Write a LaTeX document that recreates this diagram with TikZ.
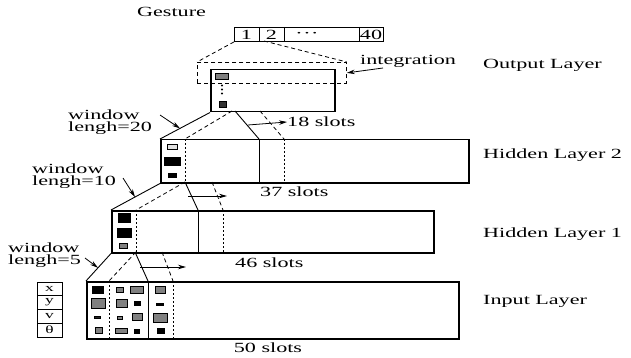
\documentclass[tikz,border=0pt]{standalone}
\usepackage{fontspec}
\setmainfont[FakeStretch=1.58]{Liberation Serif}
\usetikzlibrary{calc,arrows.meta}
\newcommand\mysq[5]{\filldraw[fill=#5,draw=black,line width=0.5pt] (#1,#2) rectangle (#3,#4);}
\begin{document}
\begin{tikzpicture}[x=1pt,y=-1pt,
  every node/.style={font=\fontsize{14}{12.5}\selectfont, inner sep=0pt},
  layer/.style={draw, line width=1.5pt, anchor=north west, inner sep=0pt},
  thinbox/.style={draw, line width=0.9pt, anchor=north west, inner sep=0pt},
  conn/.style={line width=0.9pt},
  dconn/.style={line width=0.8pt, dash pattern=on 4pt off 3pt},
  vdiv/.style={line width=1pt, dash pattern=on 2.2pt off 1.8pt},
  arr/.style={line width=0.8pt, -{Stealth[length=8pt,width=4.5pt]}},
  featlbl/.style={font=\fontsize{11}{11}\selectfont},
]
\useasboundingbox (0,0) rectangle (631,358);

% ---------- gesture vector ----------
\node[anchor=west] (gest) at (137,12) {Gesture};
\node[thinbox, minimum width=149pt, minimum height=14pt] (g) at (234,27) {};
\draw[line width=0.9pt] (259,27) -- (259,41) (284,27) -- (284,41) (359,27) -- (359,41);
\node (g1) at (246.5,34.5) {1};
\node (g2) at (271.5,34.5) {2};
\node[font=\fontsize{7}{8}\selectfont] (gd) at (307,34) {•\hspace{4pt}•\hspace{4pt}•};
\node (g40) at (371,34.5) {40};

% ---------- output layer ----------
\node[draw, dconn, anchor=north west, minimum width=149pt, minimum height=21pt] (int) at (197,62) {};
\coordinate (gr) at (264,41);
\draw[dconn] (g.south west) -- (int.north west);
\draw[dconn] (gr) -- (int.north east);
\node[anchor=west] (integ) at (360,61) {integration};
\coordinate (ia) at (383,68);
\draw[arr] (ia) -- (int.east);

\node[layer, minimum width=124pt, minimum height=42pt] (o) at (210,69) {};
\mysq{215}{73}{228}{79}{gray}
\foreach \yy in {85.5,89.5,93.5} \fill (222,\yy) circle (1.1pt);
\mysq{219}{101}{226}{107}{black!80}
\node[anchor=west] (lo) at (483,65) {Output Layer};

% ---------- hidden layer 2 ----------
\node[layer, minimum width=308pt, minimum height=43pt] (h2) at (160,139) {};
\draw[vdiv] (185,139) -- (185,182);
\draw[conn] (259,139) -- (259,182);
\draw[vdiv] (284,139) -- (284,182);
\mysq{167}{144}{177}{149}{black!12}
\mysq{164}{157}{180}{165}{black}
\mysq{168}{173}{176}{177}{black}
\node[anchor=west] (lh2) at (483,155) {Hidden Layer 2};

\coordinate (o2) at (232,111); \coordinate (o3) at (235,111); \coordinate (o4) at (260,111);
\coordinate (t2) at (185,139); \coordinate (t3) at (259,139); \coordinate (t4) at (284,139);
\draw[conn] (o.south west) -- (h2.north west);
\draw[dconn] (o2) -- (t2);
\draw[conn] (o3) -- (t3);
\draw[dconn] (o4) -- (t4);
\coordinate (a18) at (248,125);
\node[anchor=west] (s18) at (287,122) {18 slots};
\draw[arr] (a18) -- (s18.west);

\node[anchor=west, align=left] (w20) at (68,122) {window\\lengh=20};
\coordinate (w20s) at (160,115);
\draw[arr] (w20s) -- ($(o.south west)!0.6!(h2.north west)$);

% ---------- hidden layer 1 ----------
\node[layer, minimum width=322pt, minimum height=42pt] (h1) at (111,210) {};
\draw[vdiv] (136,210) -- (136,252);
\draw[conn] (198,210) -- (198,252);
\draw[vdiv] (223,210) -- (223,252);
\mysq{118}{213}{130}{222}{black}
\mysq{117}{228}{131}{237}{black}
\mysq{119}{243}{127}{248}{gray}
\node[anchor=west] (lh1) at (483,234) {Hidden Layer 1};

\coordinate (b2) at (185,182); \coordinate (b4) at (212,182);
\coordinate (u2) at (136,210); \coordinate (u3) at (198,210); \coordinate (u4) at (223,210);
\draw[conn] (h2.south west) -- (h1.north west);
\draw[dconn] (b2) -- (u2);
\draw[conn] (b2) -- (u3);
\draw[dconn] (b4) -- (u4);
\coordinate (a37) at (188,196); \coordinate (a37e) at (227,196);
\draw[arr] (a37) -- (a37e);
\node[anchor=west] (s37) at (260,192) {37 slots};

\node[anchor=west, align=left] (w10) at (32,176) {window\\lengh=10};
\coordinate (w10s) at (123,178);
\draw[arr] (w10s) -- ($(h2.south west)!0.51!(h1.north west)$);

% ---------- input layer ----------
\node[layer, minimum width=372pt, minimum height=57pt] (in) at (86,281) {};
\draw[vdiv] (109,281) -- (109,338);
\draw[conn] (148,281) -- (148,338);
\draw[vdiv] (173,281) -- (173,338);
\node[anchor=west] (lin) at (483,301) {Input Layer};

\coordinate (c2) at (136,252); \coordinate (c3) at (135,252); \coordinate (c4) at (162,252);
\coordinate (v2) at (109,281); \coordinate (v3) at (148,281); \coordinate (v4) at (173,281);
\draw[conn] (h1.south west) -- (in.north west);
\draw[dconn] (c2) -- (v2);
\draw[conn] (c3) -- (v3);
\draw[dconn] (c4) -- (v4);
\coordinate (a46) at (140,267); \coordinate (a46e) at (186,267);
\draw[arr] (a46) -- (a46e);
\node[anchor=west] (s46) at (235,263) {46 slots};

\node[anchor=west, align=left] (w5) at (8,255) {window\\lengh=5};
\coordinate (w5s) at (85,258);
\draw[arr] (w5s) -- ($(h1.south west)!0.52!(in.north west)$);

% input cells
\mysq{92}{286}{103}{293}{black}
\mysq{91}{298}{105}{308}{gray}
\mysq{94}{316}{100}{318}{black!85}
\mysq{95}{327}{102}{333}{gray}
\mysq{116}{287}{123}{292}{gray}
\mysq{116}{299}{127}{307}{gray}
\mysq{117}{316}{122}{319}{gray}
\mysq{115}{328}{127}{333}{gray}
\mysq{130}{286}{143}{293}{gray}
\mysq{134}{301}{140}{305}{black}
\mysq{132}{313}{142}{320}{gray}
\mysq{134}{329}{139}{333}{black}
\mysq{155}{286}{165}{293}{gray}
\mysq{156}{303}{163}{305}{black}
\mysq{153}{313}{167}{322}{gray}
\mysq{157}{328}{164}{333}{black}

\node (s50) at (268,348) {50 slots};

% feature legend
\node[thinbox, minimum width=25pt, minimum height=55pt] (feat) at (37,282) {};
\draw[line width=0.9pt] (37,295.75) -- (62,295.75) (37,309.5) -- (62,309.5) (37,323.25) -- (62,323.25);
\node[featlbl] (fx) at (49.5,288.5) {x};
\node[featlbl] (fy) at (49.5,302.3) {y};
\node[featlbl] (fv) at (49.5,316.2) {v};
\node[featlbl] (ft) at (49.5,330) {θ};
\end{tikzpicture}
\end{document}
